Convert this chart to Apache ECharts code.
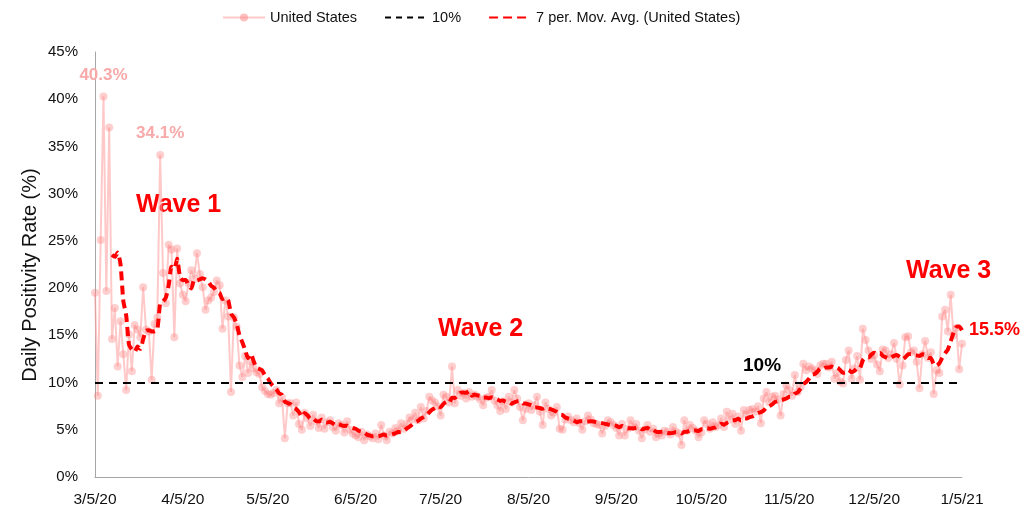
<!DOCTYPE html>
<html>
<head>
<meta charset="utf-8">
<script src="https://cdn.jsdelivr.net/npm/echarts@6/dist/echarts.min.js"></script>
<style>
  html, body { margin: 0; padding: 0; background: #fff; }
  #chart { width: 1025px; height: 513px; }
</style>
</head>
<body>
<div id="chart"></div>
<script>
// ---- Data (daily positivity rate, %, United States) ----
const START_DATE = [2020, 3, 5]; // 3/5/20, one value per day
const mar5_apr4 = [19.5, 8.6, 25.1, 40.3, 19.7, 37.0, 14.6, 17.9, 11.7, 16.5,
  13.0, 9.2, 15.1, 11.2, 16.1, 15.6, 14.8, 20.1, 15.6, 15.4,
  10.3, 16.2, 16.9, 34.1, 21.6, 18.4, 24.6, 24.1, 14.8, 24.2, 20.5];
const apr5_may4 = [19.3, 18.6, 20.5, 21.9, 21.0, 23.7, 21.5, 20.1, 17.7,
  18.7, 19.0, 19.6, 20.8, 20.3, 15.7, 18.7, 17.0, 9.0, 16.9,
  15.9, 11.8, 10.6, 12.8, 11.0, 12.2, 11.5, 11.1, 10.9, 9.5, 9.1];
const may5_jun4 = [8.8, 8.7, 8.9, 9.2, 7.8, 8.4, 4.1, 7.8, 7.8,
  6.5, 7.9, 5.6, 5.0, 6.8, 6.2, 5.4, 6.6, 5.9, 5.2,
  6.3, 5.1, 5.8, 6.0, 5.3, 4.9, 5.7, 5.5, 4.7, 5.9, 5.0, 4.6];
const jun5_jul4 = [4.4, 4.2, 4.8, 3.9, 4.5, 4.3, 4.1, 4.6,
  4.0, 5.5, 4.4, 3.9, 4.8, 4.6, 5.2, 4.9, 5.7, 5.1,
  5.6, 6.3, 6.1, 6.8, 6.0, 7.4, 6.2, 7.0, 8.5, 8.1, 7.9, 7.5];
const jul5_aug4 = [6.5, 8.7, 8.5, 7.9, 11.7, 7.8, 9.2, 8.6,
  8.9, 8.3, 9.0, 8.5, 8.7, 8.5, 8.2, 7.6, 8.4, 8.5,
  9.2, 8.1, 7.6, 7.0, 8.0, 7.2, 8.5, 7.9, 9.2, 8.3, 7.4, 6.0, 7.2];
const aug5_sep4 = [7.8, 7.1, 7.6, 8.5, 6.9, 5.5, 7.9,
  7.2, 6.5, 6.8, 7.4, 5.1, 5.0, 6.1, 6.4, 6.0, 5.8,
  6.2, 5.7, 5.0, 5.9, 6.5, 6.1, 5.7, 5.6, 5.5, 4.6, 5.4, 6.0, 5.8, 5.5];
const sep5_oct4 = [5.2, 4.4, 5.6, 4.4, 5.1, 6.0,
  5.3, 5.6, 4.9, 4.1, 5.0, 5.5, 4.8, 5.1, 4.2, 4.6,
  4.4, 4.9, 4.8, 4.5, 5.3, 4.8, 4.6, 3.4, 6.0, 4.9, 5.5, 5.2, 4.9, 4.2];
const oct5_nov4 = [4.7, 6.0, 5.6, 5.1, 5.8, 5.3,
  5.5, 6.2, 5.3, 6.9, 6.1, 6.7, 5.6, 6.4, 4.9, 7.1,
  6.6, 7.1, 7.2, 6.9, 7.5, 5.7, 8.3, 9.0, 7.9, 8.5, 8.6, 8.2, 6.5, 8.8, 9.7];
const nov5_dec4 = [9.2, 8.6, 10.8, 9.0, 9.5,
  12.0, 11.3, 11.7, 11.5, 11.3, 10.9, 11.8, 12.0, 12.0, 11.6,
  12.2, 10.4, 11.0, 10.1, 9.9, 12.4, 13.4, 10.4, 11.5, 12.8,
  10.3, 15.7, 14.5, 13.4, 12.5];
const dec5_jan5 = [12.9, 11.9, 11.2, 13.5, 13.4,
  12.6, 13.0, 14.2, 12.5, 9.8, 11.8, 14.8, 14.9, 13.2, 13.4,
  12.2, 9.4, 13.0, 14.4, 12.6, 13.2, 8.8, 11.3, 11.0, 17.0,
  17.7, 15.4, 19.3, 15.0, 15.8, 11.4, 14.1];

const THRESHOLD = 10;            // the 10% reference line
const MA_PERIOD = 7;             // 7 per. Mov. Avg.
const LABELLED_DATES = ['3/8/20', '3/28/20'];   // peaks labelled on the chart
const TICK_LABELS = ['3/5/20', '4/5/20', '5/5/20', '6/5/20', '7/5/20', '8/5/20',
  '9/5/20', '10/5/20', '11/5/20', '12/5/20', '1/5/21'];
const Y_TICKS = { min: 0, max: 45, interval: 5 };

// ---- Build series from the arrays ----
const usValues = [].concat(mar5_apr4, apr5_may4, may5_jun4, jun5_jul4, jul5_aug4,
  aug5_sep4, sep5_oct4, oct5_nov4, nov5_dec4, dec5_jan5);
const dates = usValues.map((v, i) => {
  const d = new Date(START_DATE[0], START_DATE[1] - 1, START_DATE[2] + i);
  return (d.getMonth() + 1) + '/' + d.getDate() + '/' + String(d.getFullYear()).slice(2);
});
const maValues = usValues.map((v, i) => {
  if (i < MA_PERIOD - 1) return '-';
  let s = 0;
  for (let k = i - MA_PERIOD + 1; k <= i; k++) s += usValues[k];
  return +(s / MA_PERIOD).toFixed(2);
});

const SANS = "'Liberation Sans', Arial, sans-serif";
const PINK_LABEL = '#f8a9a9';

const usData = usValues.map((v, i) => LABELLED_DATES.includes(dates[i]) ? {
  value: v,
  label: { show: true, position: 'top', distance: 9, formatter: p => p.value.toFixed(1) + '%',
    color: PINK_LABEL, fontFamily: SANS, fontWeight: 'bold', fontSize: 17 }
} : v);

const lastIdx = maValues.length - 1;

const chart = echarts.init(document.getElementById('chart'), null, { renderer: 'canvas' });
chart.setOption({
  animation: false,
  backgroundColor: '#fff',
  grid: { left: 95, right: 63, top: 52, bottom: 36, containLabel: false },
  legend: {
    left: 217, top: 5,
    itemWidth: 42, itemHeight: 10, itemGap: 27,
    textStyle: { fontFamily: SANS, fontSize: 14.5, color: '#111' },
    data: [
      { name: 'United States', itemStyle: { color: 'rgba(255,140,140,0.55)' } },
      { name: '10%', itemStyle: { opacity: 0 } },
      { name: '7 per. Mov. Avg. (United States)', itemStyle: { opacity: 0 } }
    ]
  },
  xAxis: {
    type: 'category',
    data: dates,
    boundaryGap: false,
    axisLine: { lineStyle: { color: '#a6a6a6', width: 1 } },
    axisTick: { show: false },
    axisLabel: {
      interval: (idx, val) => TICK_LABELS.includes(val),
      margin: 15,
      fontFamily: SANS, fontSize: 15.5, color: '#111'
    },
    splitLine: { show: false }
  },
  yAxis: {
    type: 'value',
    min: Y_TICKS.min, max: Y_TICKS.max, interval: Y_TICKS.interval,
    axisLine: { show: true, lineStyle: { color: '#a6a6a6', width: 1 } },
    axisTick: { show: false },
    axisLabel: { formatter: '{value}%', margin: 17, fontFamily: SANS, fontSize: 15, color: '#111' },
    splitLine: { show: false }
  },
  series: [
    {
      name: 'United States',
      type: 'line',
      data: usData,
      symbol: 'circle',
      symbolSize: 8,
      showAllSymbol: true,
      itemStyle: { color: 'rgba(255,130,130,0.38)' },
      lineStyle: { color: 'rgba(255,165,165,0.6)', width: 2 },
      z: 2
    },
    {
      name: '10%',
      type: 'line',
      data: [],
      symbol: 'none',
      itemStyle: { color: '#000' },
      lineStyle: { color: '#000', width: 2, type: [6, 5] },
      markLine: {
        silent: true, symbol: 'none',
        label: { show: false },
        lineStyle: { color: '#000', width: 2, type: [8, 6] },
        data: [{ yAxis: THRESHOLD }]
      },
      z: 3
    },
    {
      name: '7 per. Mov. Avg. (United States)',
      type: 'line',
      data: maValues,
      symbol: 'none',
      smooth: 0.2,
      itemStyle: { color: '#ff0000' },
      lineStyle: { color: '#ff0000', width: 4, type: [9, 5] },
      markPoint: {
        silent: true,
        symbol: 'circle', symbolSize: 2,
        itemStyle: { color: 'rgba(255,0,0,0)' },
        label: { show: true, position: 'right', distance: 6,
          formatter: p => (+p.value).toFixed(1) + '%',
          color: '#ff0000', fontFamily: SANS, fontWeight: 'bold', fontSize: 18 },
        data: [{ coord: [dates[lastIdx], maValues[lastIdx]], value: maValues[lastIdx] }]
      },
      z: 4
    }
  ],
  graphic: [
    { type: 'text', x: 30, y: 275, rotation: Math.PI / 2,
      style: { text: 'Daily Positivity Rate (%)', fill: '#111', font: '20px ' + SANS,
        align: 'center', verticalAlign: 'middle' } },
    { type: 'text', left: 136, top: 193, style: { text: 'Wave 1', fill: '#ff0000', font: 'bold 25px ' + SANS } },
    { type: 'text', left: 438, top: 317, style: { text: 'Wave 2', fill: '#ff0000', font: 'bold 25px ' + SANS } },
    { type: 'text', left: 906, top: 259, style: { text: 'Wave 3', fill: '#ff0000', font: 'bold 25px ' + SANS } },
    { type: 'text', left: 743, top: 356, style: { text: '10%', fill: '#000', font: 'bold 19px ' + SANS } }
  ]
});
</script>
</body>
</html>
